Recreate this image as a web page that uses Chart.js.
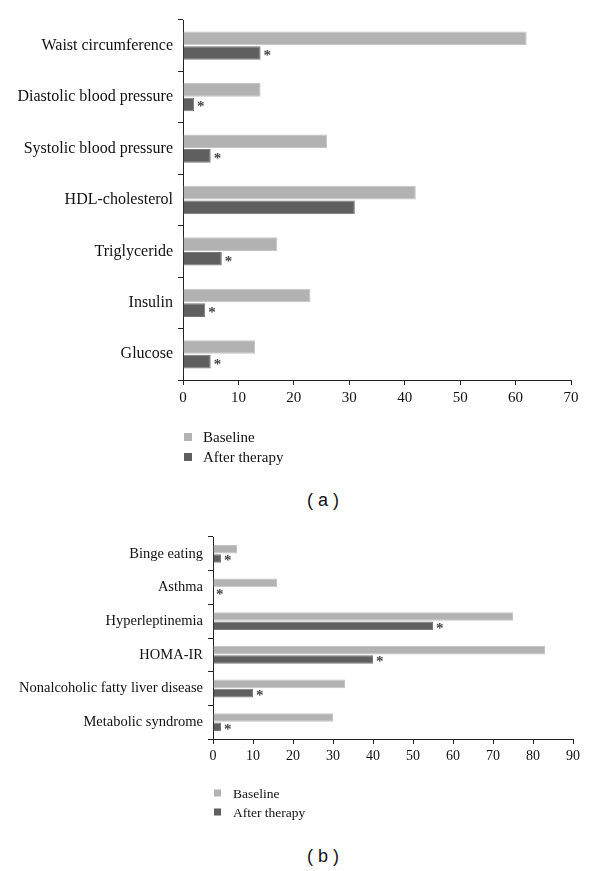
<!DOCTYPE html>
<html>
<head>
<meta charset="utf-8">
<script src="https://cdn.jsdelivr.net/npm/chart.js@4"></script>
<style>
  body { margin: 0; background: #fff; }
  .wrap { position: relative; width: 600px; height: 871px; }
  .box { position: absolute; left: 0; width: 600px; }
  .panel-label {
    position: absolute; width: 100px; text-align: center;
    font: 18px "Liberation Sans", Arial, sans-serif; color: #111;
  }
</style>
</head>
<body>
<div class="wrap">
  <div class="box" style="top:0;height:480px"><canvas id="chartA"></canvas></div>
  <div class="panel-label" style="left:273px;top:490px">( a )</div>
  <div class="box" style="top:500px;height:330px"><canvas id="chartB"></canvas></div>
  <div class="panel-label" style="left:273px;top:846px">( b )</div>
</div>
<script>
// ---- data (a) ----
const categoriesA = ["Waist circumference", "Diastolic blood pressure", "Systolic blood pressure",
  "HDL-cholesterol", "Triglyceride", "Insulin", "Glucose"];
const baselineA = [62, 14, 26, 42, 17, 23, 13];
const afterA = [14, 2, 5, 31, 7, 4, 5];
const starsA = [true, true, true, false, true, true, true];
const ticksA = [0, 10, 20, 30, 40, 50, 60, 70];

// ---- data (b) ----
const categoriesB = ["Binge eating", "Asthma", "Hyperleptinemia", "HOMA-IR",
  "Nonalcoholic fatty liver disease", "Metabolic syndrome"];
const baselineB = [6, 16, 75, 83, 33, 30];
const afterB = [2, 0, 55, 40, 10, 2];
const starsB = [true, true, true, true, true, true];
const ticksB = [0, 10, 20, 30, 40, 50, 60, 70, 80, 90];

const seriesNames = ["Baseline", "After therapy"];
const LIGHT = "#b2b2b2";
const DARK = "#5f5f5f";
const SERIF = '"Liberation Serif", "Times New Roman", serif';

/* asterisks after the "after therapy" bars */
const starPlugin = {
  id: "stars",
  afterDatasetsDraw(chart, args, opts) {
    const ctx = chart.ctx;
    const meta = chart.getDatasetMeta(1);
    ctx.save();
    ctx.font = "bold 15px " + SERIF;
    ctx.fillStyle = "#444";
    ctx.textBaseline = "alphabetic";
    meta.data.forEach((bar, i) => {
      if (!opts.marks[i]) return;
      ctx.fillText("*", bar.x + 3, bar.y + 7);
    });
    ctx.restore();
  }
};

/* legend stacked under the x axis */
const stackLegend = {
  id: "stackLegend",
  afterDraw(chart, args, opts) {
    const ctx = chart.ctx;
    const left = chart.chartArea.left;
    ctx.save();
    ctx.font = opts.size + "px " + SERIF;
    ctx.textBaseline = "middle";
    chart.data.datasets.forEach((ds, i) => {
      const y = chart.chartArea.bottom + opts.offset + i * opts.gap;
      ctx.fillStyle = ds.backgroundColor;
      ctx.fillRect(left + 1, y - opts.box / 2, opts.box, opts.box);
      ctx.fillStyle = "#111";
      ctx.fillText(ds.label, left + 20, y + 1);
    });
    ctx.restore();
  }
};

function makeChart(id, cats, base, after, marks, ticks, dims) {
  return new Chart(document.getElementById(id), {
    type: "bar",
    data: {
      labels: cats,
      datasets: [
        { label: seriesNames[0], data: base, backgroundColor: LIGHT, borderColor: "#c4c4c4", borderWidth: 1 },
        { label: seriesNames[1], data: after, backgroundColor: DARK, borderColor: "#7a7a7a", borderWidth: 1 }
      ]
    },
    options: {
      indexAxis: "y",
      responsive: true,
      maintainAspectRatio: false,
      animation: false,
      categoryPercentage: dims.catPct,
      barPercentage: 0.93,
      layout: { padding: { top: dims.top, right: dims.right, left: 0, bottom: 0 } },
      plugins: {
        legend: { display: false },
        tooltip: { enabled: false },
        stars: { marks: marks },
        stackLegend: { offset: dims.legendOffset, size: dims.legendSize, gap: dims.legendGap, box: dims.legendBox }
      },
      scales: {
        x: {
          min: ticks[0],
          max: ticks[ticks.length - 1],
          ticks: { stepSize: ticks[1] - ticks[0], color: "#111", font: { family: SERIF, size: dims.tickSize }, padding: 4 },
          grid: { drawOnChartArea: false, drawTicks: true, tickLength: 5, color: "#222" },
          border: { display: true, color: "#222", width: 1 },
          afterFit: s => { s.height = dims.xHeight; }
        },
        y: {
          ticks: { color: "#111", font: { family: SERIF, size: dims.labelSize }, padding: 5 },
          grid: { offset: true, drawOnChartArea: false, drawTicks: true, tickLength: 5, color: "#222" },
          border: { display: true, color: "#222", width: 1 },
          afterFit: s => { s.width = dims.yWidth; }
        }
      }
    },
    plugins: [starPlugin, stackLegend]
  });
}

makeChart("chartA", categoriesA, baselineA, afterA, starsA, ticksA,
  { top: 20, right: 29, xHeight: 100, yWidth: 183, catPct: 0.57,
    labelSize: 16, tickSize: 15, legendSize: 15, legendOffset: 57, legendGap: 20, legendBox: 8 });
makeChart("chartB", categoriesB, baselineB, afterB, starsB, ticksB,
  { top: 37, right: 27, xHeight: 91, yWidth: 213, catPct: 0.55,
    labelSize: 14.5, tickSize: 14, legendSize: 13.5, legendOffset: 54, legendGap: 19, legendBox: 7 });
</script>
</body>
</html>
